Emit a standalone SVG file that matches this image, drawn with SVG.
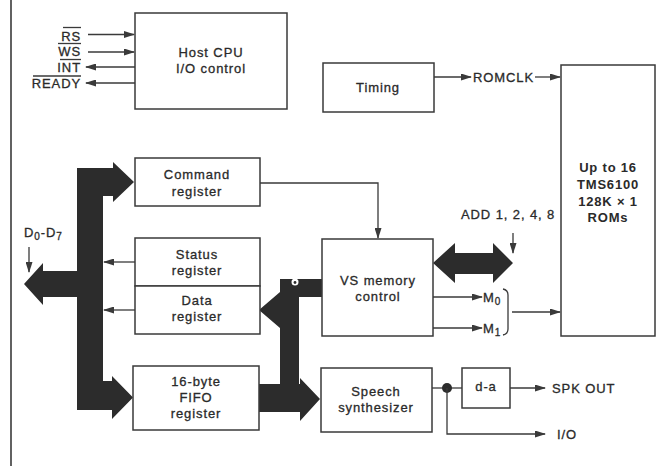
<svg xmlns="http://www.w3.org/2000/svg" width="663" height="466" viewBox="0 0 663 466">
<style>
.box{fill:#fff;stroke:#3a3a3a;stroke-width:1.5}
.ln{fill:none;stroke:#3a3a3a;stroke-width:1.3}
.bus{fill:#2c2c2c;stroke:none}
text{font-family:"Liberation Sans",Arial,sans-serif;font-size:13px;fill:#2a2a2a;stroke:#2a2a2a;stroke-width:0.3px;letter-spacing:0.9px}
.c{text-anchor:middle}
.b{font-weight:bold;letter-spacing:0.8px;stroke-width:0}
.r{text-anchor:end}
.sub{font-size:10px}
</style>
<defs>
<marker id="ah" markerWidth="11" markerHeight="7" refX="10" refY="3.5" orient="auto" markerUnits="userSpaceOnUse">
<path d="M0,0 L11,3.5 L0,7 z" fill="#3a3a3a"/>
</marker>
</defs>
<rect width="663" height="466" fill="#fff"/>
<line x1="11" y1="0" x2="11" y2="466" stroke="#3a3a3a" stroke-width="1.6"/>

<g id="connectors">
<line class="ln" x1="88" y1="34.5" x2="134" y2="34.5" marker-end="url(#ah)"/>
<line class="ln" x1="88" y1="52" x2="134" y2="52" marker-end="url(#ah)"/>
<line class="ln" x1="135" y1="67" x2="86" y2="67" marker-end="url(#ah)"/>
<line class="ln" x1="135" y1="83" x2="86" y2="83" marker-end="url(#ah)"/>
<line class="ln" x1="434" y1="77" x2="471" y2="77" marker-end="url(#ah)"/>
<line class="ln" x1="535" y1="77" x2="560" y2="77" marker-end="url(#ah)"/>
<polyline class="ln" points="260,183 378,183 378,238" marker-end="url(#ah)"/>
<line class="ln" x1="135" y1="262" x2="104" y2="262" marker-end="url(#ah)"/>
<line class="ln" x1="135" y1="310" x2="104" y2="310" marker-end="url(#ah)"/>
<line class="ln" x1="29" y1="247" x2="29" y2="272" marker-end="url(#ah)"/>
<line class="ln" x1="513" y1="233" x2="513" y2="253" marker-end="url(#ah)"/>
<line class="ln" x1="433" y1="297" x2="482" y2="297" marker-end="url(#ah)"/>
<line class="ln" x1="433" y1="328" x2="482" y2="328" marker-end="url(#ah)"/>
<path class="ln" d="M503,289 Q508,290 508,295 L508,329 Q508,334 503,335"/>
<line class="ln" x1="512" y1="312" x2="560" y2="312" marker-end="url(#ah)"/>
<line class="ln" x1="432" y1="388" x2="462" y2="388"/>
<circle cx="447" cy="388" r="5" fill="#2c2c2c"/>
<polyline class="ln" points="447,388 447,434 545,434" marker-end="url(#ah)"/>
<line class="ln" x1="510" y1="388" x2="545" y2="388" marker-end="url(#ah)"/>
<path class="bus" d="M77,168 L113,168 L113,162 L134,182 L113,202 L113,196 L103,196 L103,381 L112,381 L112,376 L133,397.5 L112,419 L112,410 L77,410 L77,297 L43,297 L43,305 L24,284 L43,263 L43,271 L77,271 Z"/>
<path class="bus" d="M280,279 L322,279 L322,297 L299,297 L299,384 L300,384 L300,378 L320,399 L300,421 L300,412 L259,412 L259,384 L280,384 L280,328 L259,310 L280,292 Z"/>
<circle cx="295" cy="282" r="3.5" fill="#fff"/>
<circle cx="295" cy="282.5" r="1.4" fill="#2c2c2c"/>
<path class="bus" d="M433,263 L455,243 L455,253 L493,253 L493,243 L513,263 L493,283 L493,274 L455,274 L455,283 Z"/>
</g>

<g id="signals">
<text class="r" x="81" y="41">RS</text>
<line class="ln" x1="63" y1="27.5" x2="81" y2="27.5"/>
<text class="r" x="81" y="56">WS</text>
<line class="ln" x1="58" y1="43.5" x2="81" y2="43.5"/>
<text class="r" x="81" y="72">INT</text>
<line class="ln" x1="60" y1="59.5" x2="81" y2="59.5"/>
<text class="r" x="81" y="88">READY</text>
<line class="ln" x1="33" y1="76" x2="81" y2="76"/>
<text x="473" y="82">ROMCLK</text>
<text x="24" y="237">D<tspan class="sub" dy="3">0</tspan><tspan dy="-3">-D</tspan><tspan class="sub" dy="3">7</tspan></text>
<text x="461" y="219">ADD 1, 2, 4, 8</text>
<text x="483" y="302">M<tspan class="sub" dy="3">0</tspan></text>
<text x="483" y="333">M<tspan class="sub" dy="3">1</tspan></text>
<text x="552" y="393">SPK OUT</text>
<text x="557" y="439">I/O</text>
</g>

<g id="host-cpu"><rect class="box" x="135" y="13" width="152" height="96"/><text class="c" x="211" y="57">Host CPU</text><text class="c" x="211" y="73">I/O control</text></g>
<g id="timing"><rect class="box" x="323" y="63" width="111" height="49"/><text class="c" x="378" y="92">Timing</text></g>
<g id="roms"><rect class="box" x="561" y="65" width="94" height="271"/><text class="c b" x="608" y="172">Up to 16</text><text class="c b" x="608" y="189">TMS6100</text><text class="c b" x="608" y="206">128K × 1</text><text class="c b" x="608" y="222">ROMs</text></g>
<g id="command"><rect class="box" x="135" y="158" width="125" height="48"/><text class="c" x="197" y="179">Command</text><text class="c" x="197" y="196">register</text></g>
<g id="status"><rect class="box" x="135" y="238" width="125" height="48"/><text class="c" x="197" y="259">Status</text><text class="c" x="197" y="275">register</text></g>
<g id="data"><rect class="box" x="135" y="286" width="125" height="48"/><text class="c" x="197" y="305">Data</text><text class="c" x="197" y="321">register</text></g>
<g id="fifo"><rect class="box" x="133" y="366" width="126" height="64"/><text class="c" x="196" y="386">16-byte</text><text class="c" x="196" y="402">FIFO</text><text class="c" x="196" y="418">register</text></g>
<g id="vs-memory"><rect class="box" x="322" y="239" width="111" height="97"/><text class="c" x="378" y="285">VS memory</text><text class="c" x="378" y="301">control</text></g>
<g id="speech"><rect class="box" x="321" y="368" width="111" height="64"/><text class="c" x="376" y="396">Speech</text><text class="c" x="376" y="412">synthesizer</text></g>
<g id="d-a"><rect class="box" x="462" y="368" width="48" height="40"/><text class="c" x="486" y="391">d-a</text></g>
</svg>
